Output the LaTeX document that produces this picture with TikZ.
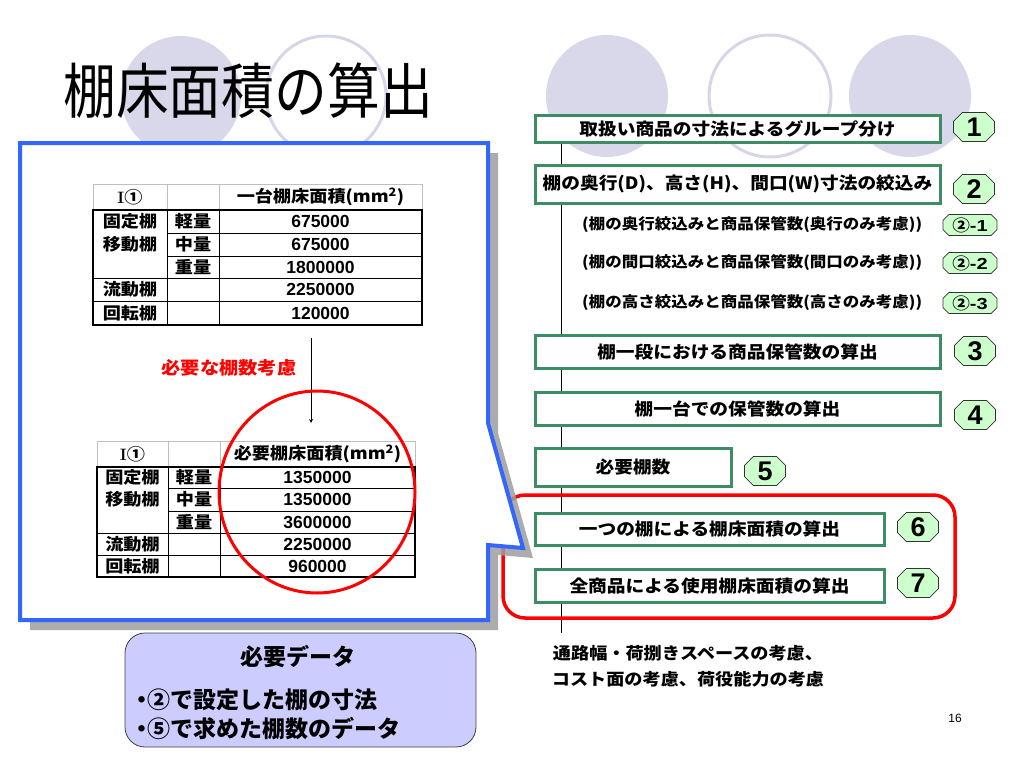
\documentclass[tikz,border=0pt]{standalone}
\usepackage{fontspec}
\usepackage{tikz}
\usetikzlibrary{shapes.misc,arrows,positioning}

\newfontfamily\jp{Noto Sans CJK JP}
\newfontfamily\jpwide[FakeStretch=1.1]{Noto Sans CJK JP}
\newfontfamily\jptitle[FakeStretch=0.88]{Noto Sans CJK JP}
\newfontfamily\lat{Liberation Sans}
\newfontfamily\latwide[FakeStretch=1.25]{Liberation Sans}

\definecolor{stepgreen}{RGB}{60,140,100}
\definecolor{circlefill}{RGB}{216,216,234}
\definecolor{circleline}{RGB}{214,214,234}
\definecolor{calloutblue}{RGB}{51,102,255}
\definecolor{badgegreen}{RGB}{204,255,204}
\definecolor{notefill}{RGB}{204,204,255}

\begin{document}
\begin{tikzpicture}[
    x=1pt, y=-1pt,
    stepbox/.style={draw=stepgreen, line width=3pt, fill=white, inner sep=0pt, font=\jpwide\bfseries\fontsize{17}{20}\selectfont},
    badge/.style={chamfered rectangle, chamfered rectangle xsep=6pt, draw=black!80, fill=badgegreen, line width=0.8pt, minimum width=41pt, minimum height=29pt, inner sep=0pt, font=\lat\bfseries\fontsize{27}{27}\selectfont},
    subbadge/.style={chamfered rectangle, chamfered rectangle xsep=3pt, draw=black!80, fill=badgegreen, line width=0.8pt, minimum width=54pt, minimum height=15pt, inner sep=0pt, font=\jpwide\bfseries\fontsize{16}{16}\selectfont},
    subitem/.style={anchor=west, inner sep=0pt, font=\jpwide\bfseries\fontsize{15}{18}\selectfont},
    cell/.style={inner sep=0pt, font=\jpwide\bfseries\fontsize{16.5}{18}\selectfont},
    val/.style={inner sep=0pt, font=\lat\bfseries\fontsize{17.5}{18}\selectfont},
    arrow/.style={->, >=stealth, line width=0.8pt}
]

\useasboundingbox (0,0) rectangle (1024,768);

% background circles
\fill[circlefill] (181,96) circle[radius=60];
\draw[circleline, line width=3pt] (326,96) circle[radius=60];
\fill[circlefill] (607,96) circle[radius=61];
\draw[circleline, line width=3pt] (770,96) circle[radius=61];
\fill[circlefill] (910,96) circle[radius=61];

\node[font=\jptitle\fontsize{60}{60}\selectfont, inner sep=0pt] (title) at (248,91) {棚床面積の算出};

% flow on the right
\coordinate (flowtop) at (561,129);
\coordinate (flowend) at (561,633);
\draw[line width=0.8pt] (flowtop) -- (flowend);

\node[stepbox, minimum width=405pt, minimum height=27pt] (group) at (737.5,128.5) {取扱い商品の寸法によるグループ分け};
\node[stepbox, minimum width=405pt, minimum height=38pt] (narrow) at (737.5,184) {棚の奥行(D)、高さ(H)、間口(W)寸法の絞込み};
\node[subitem] (depth) at (582,225) {(棚の奥行絞込みと商品保管数(奥行のみ考慮))};
\node[subitem] (width) at (582,263) {(棚の間口絞込みと商品保管数(間口のみ考慮))};
\node[subitem] (height) at (582,303) {(棚の高さ絞込みと商品保管数(高さのみ考慮))};
\node[stepbox, minimum width=405pt, minimum height=33pt] (perlevel) at (737.5,351.5) {棚一段における商品保管数の算出};
\node[stepbox, minimum width=405pt, minimum height=33pt] (perunit) at (737.5,408.5) {棚一台での保管数の算出};
\node[stepbox, minimum width=196pt, minimum height=38pt] (count) at (633,467) {必要棚数};
\node[stepbox, minimum width=349pt, minimum height=32pt] (onearea) at (709.5,529) {一つの棚による棚床面積の算出};
\node[stepbox, minimum width=349pt, minimum height=33pt] (allarea) at (709.5,585.5) {全商品による使用棚床面積の算出};

\node[badge] (n1) at (974,127) {1};
\node[badge] (n2) at (974,189) {2};
\node[subbadge] (n21) at (970,225) {②{\latwide\bfseries -1}};
\node[subbadge] (n22) at (970,263) {②{\latwide\bfseries -2}};
\node[subbadge] (n23) at (970,303) {②{\latwide\bfseries -3}};
\node[badge] (n3) at (975,351) {3};
\node[badge] (n4) at (975,415) {4};
\node[badge] (n5) at (765,471) {5};
\node[badge] (n6) at (918,527) {6};
\node[badge] (n7) at (918,583) {7};

\node[draw=red, line width=3.5pt, rounded corners=22pt, minimum width=452pt, minimum height=123pt, inner sep=0pt] (areaframe) at (729,556.5) {};

\node[font=\jpwide\bfseries\fontsize{16.5}{18}\selectfont, inner sep=0pt] (aisle) at (688,653) {通路幅・荷捌きスペースの考慮、};
\node[font=\jpwide\bfseries\fontsize{16.5}{18}\selectfont, inner sep=0pt, below=10pt of aisle] (cost) {コスト面の考慮、荷役能力の考慮};

% callout
\fill[black!38, opacity=0.85] (30,153) -- (498,153) -- (498,433) -- (533,558) -- (498,555) -- (498,630) -- (30,630) -- cycle;
\draw[calloutblue, line width=4pt, fill=white] (20,143) -- (488,143) -- (488,423) -- (523,548) -- (488,545) -- (488,620) -- (20,620) -- cycle;

% table 1
\draw[black!25, line width=1pt] (93,184) rectangle (422,210) (167,184) -- (167,210) (219,184) -- (219,210);
\draw[line width=1.2pt] (93,210) rectangle (422,325);
\draw[line width=1pt] (167,210) -- (167,325) (219,210) -- (219,325) (167,233) -- (422,233) (167,256) -- (422,256) (93,278) -- (422,278) (93,301) -- (422,301);
\node[cell] (t1head) at (130,197) {{\rmfamily\bfseries I}①};
\node[cell] (t1unit) at (320.5,197) {一台棚床面積(mm\textsuperscript{2})};
\node[cell] (t1fixed) at (130,221.5) {固定棚};
\node[cell] (t1move) at (130,244.5) {移動棚};
\node[cell] (t1flow) at (130,289.5) {流動棚};
\node[cell] (t1rot) at (130,313) {回転棚};
\node[cell] (t1light) at (193,221.5) {軽量};
\node[cell] (t1mid) at (193,244.5) {中量};
\node[cell] (t1heavy) at (193,267) {重量};
\node[val] (t1v1) at (320.5,221.5) {675000};
\node[val] (t1v2) at (320.5,244.5) {675000};
\node[val] (t1v3) at (320.5,267) {1800000};
\node[val] (t1v4) at (320.5,289.5) {2250000};
\node[val] (t1v5) at (320.5,313) {120000};

\node[font=\jpwide\bfseries\fontsize{17.5}{18}\selectfont, text=red, inner sep=0pt] (needlabel) at (229,368) {必要な棚数考慮};
\coordinate (arrowtop) at (311,338);
\coordinate (arrowtip) at (311,423);
\draw[arrow] (arrowtop) -- (arrowtip);

% table 2
\draw[black!25, line width=1pt] (97,441) rectangle (415,467) (168,441) -- (168,467) (220,441) -- (220,467);
\draw[line width=1.2pt] (97,467) rectangle (415,577);
\draw[line width=1pt] (168,467) -- (168,577) (220,467) -- (220,577) (168,488) -- (415,488) (168,511) -- (415,511) (97,533) -- (415,533) (97,555) -- (415,555);
\node[cell] (t2head) at (132.5,454) {{\rmfamily\bfseries I}①};
\node[cell] (t2unit) at (317.5,454) {必要棚床面積(mm\textsuperscript{2})};
\node[cell] (t2fixed) at (132.5,477.5) {固定棚};
\node[cell] (t2move) at (132.5,499.5) {移動棚};
\node[cell] (t2flow) at (132.5,544) {流動棚};
\node[cell] (t2rot) at (132.5,566) {回転棚};
\node[cell] (t2light) at (194,477.5) {軽量};
\node[cell] (t2mid) at (194,499.5) {中量};
\node[cell] (t2heavy) at (194,522) {重量};
\node[val] (t2v1) at (317.5,477.5) {1350000};
\node[val] (t2v2) at (317.5,499.5) {1350000};
\node[val] (t2v3) at (317.5,522) {3600000};
\node[val] (t2v4) at (317.5,544) {2250000};
\node[val] (t2v5) at (317.5,566) {960000};

\draw[red, line width=3pt] (317,492) ellipse [x radius=98, y radius=101];

% required data
\node[draw=black!75, fill=notefill, line width=0.8pt, rounded corners=20pt, minimum width=351pt, minimum height=114pt] (needdata) at (300.5,690) {};
\node[font=\jp\bfseries\fontsize{23}{26}\selectfont, inner sep=0pt] (needtitle) at (298,657) {必要データ};
\node[font=\jp\bfseries\fontsize{23}{26}\selectfont, inner sep=0pt, anchor=west] (needdim) at (130,700) {・\kern-6pt②で設定した棚の寸法};
\node[font=\jp\bfseries\fontsize{23}{26}\selectfont, inner sep=0pt, anchor=west] (needcount) at (130,729) {・\kern-6pt⑤で求めた棚数のデータ};

\node[font=\lat\fontsize{12}{12}\selectfont] (pagenum) at (955,718) {16};

\end{tikzpicture}
\end{document}
